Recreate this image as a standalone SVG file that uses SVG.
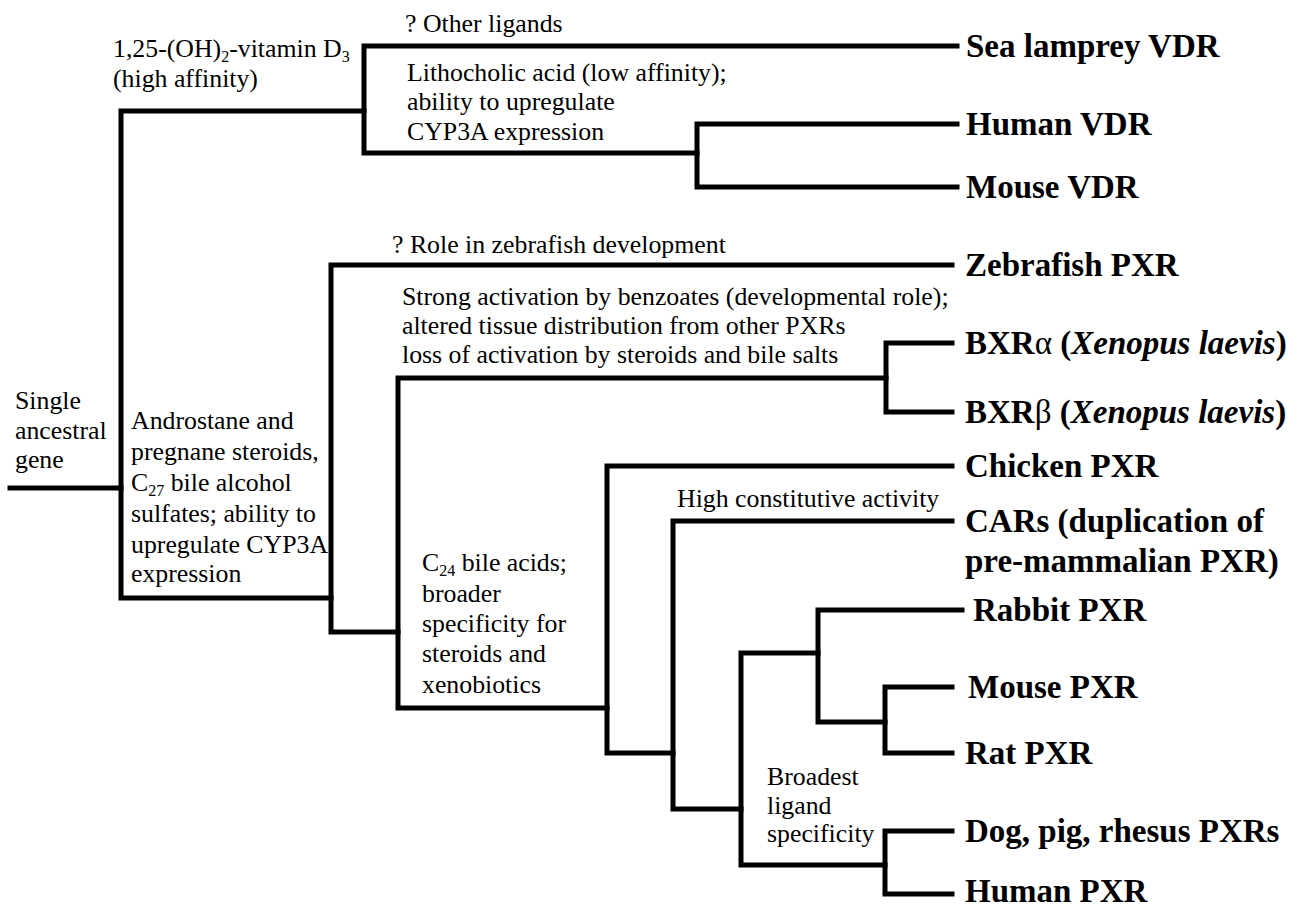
<svg xmlns="http://www.w3.org/2000/svg" width="1297" height="909" viewBox="0 0 1297 909">
<style>
.t{font-family:"Liberation Serif","Times New Roman",serif;font-size:25.8px;fill:#000}
.b{font-family:"Liberation Serif","Times New Roman",serif;font-size:33px;font-weight:bold;fill:#000}
.sub{font-size:16px}
.e{fill:none;stroke:#000;stroke-width:5;stroke-linecap:square;stroke-linejoin:miter}
</style>
<rect width="1297" height="909" fill="#fff"/>
<g id="connectors">
<path class="e" d="M10,488 H121"/>
<path class="e" d="M364,111 H121 V598 H331"/>
<path class="e" d="M957,46 H364 V153 H697"/>
<path class="e" d="M957,124 H697 V187 H957"/>
<path class="e" d="M952,265 H331 V632 H398"/>
<path class="e" d="M886,378 H398 V708 H607"/>
<path class="e" d="M952,343 H886 V412 H952"/>
<path class="e" d="M952,466 H607 V753 H673"/>
<path class="e" d="M952,521 H673 V809 H741"/>
<path class="e" d="M818,653 H741 V865 H885"/>
<path class="e" d="M962,610 H818 V722 H885"/>
<path class="e" d="M952,687 H885 V753 H952"/>
<path class="e" d="M952,831 H885 V894 H952"/>
</g>
<g id="branch-labels">
<text class="t" x="405" y="32">? Other ligands</text>
<text class="t" x="113" y="57">1,25-(OH)<tspan class="sub" dy="5">2</tspan><tspan dy="-5">-vitamin D</tspan><tspan class="sub" dy="5">3</tspan></text>
<text class="t" x="113" y="87">(high affinity)</text>
<text class="t" x="407" y="81">Lithocholic acid (low affinity);</text>
<text class="t" x="407" y="110">ability to upregulate</text>
<text class="t" x="407" y="140">CYP3A expression</text>
<text class="t" x="392" y="253">? Role in zebrafish development</text>
<text class="t" x="402" y="305">Strong activation by benzoates (developmental role);</text>
<text class="t" x="402" y="334">altered tissue distribution from other PXRs</text>
<text class="t" x="402" y="363">loss of activation by steroids and bile salts</text>
<text class="t" x="15" y="409">Single</text>
<text class="t" x="15" y="439">ancestral</text>
<text class="t" x="15" y="468">gene</text>
<text class="t" x="131" y="429">Androstane and</text>
<text class="t" x="131" y="460">pregnane steroids,</text>
<text class="t" x="131" y="491">C<tspan class="sub" dy="5">27</tspan><tspan dy="-5"> bile alcohol</tspan></text>
<text class="t" x="131" y="522">sulfates; ability to</text>
<text class="t" x="131" y="553">upregulate CYP3A</text>
<text class="t" x="131" y="582">expression</text>
<text class="t" x="422" y="571">C<tspan class="sub" dy="5">24</tspan><tspan dy="-5"> bile acids;</tspan></text>
<text class="t" x="422" y="602">broader</text>
<text class="t" x="422" y="632">specificity for</text>
<text class="t" x="422" y="662">steroids and</text>
<text class="t" x="422" y="693">xenobiotics</text>
<text class="t" x="677" y="507">High constitutive activity</text>
<text class="t" x="767" y="785">Broadest</text>
<text class="t" x="767" y="814">ligand</text>
<text class="t" x="767" y="842">specificity</text>
</g>
<g id="sea-lamprey-vdr"><text class="b" x="966" y="57">Sea lamprey VDR</text></g>
<g id="human-vdr"><text class="b" x="966" y="135">Human VDR</text></g>
<g id="mouse-vdr"><text class="b" x="966" y="198">Mouse VDR</text></g>
<g id="zebrafish-pxr"><text class="b" x="965" y="276">Zebrafish PXR</text></g>
<g id="bxr-alpha"><text class="b" x="965" y="354">BXR<tspan font-weight="normal">α</tspan> (<tspan font-style="italic">Xenopus laevis</tspan>)</text></g>
<g id="bxr-beta"><text class="b" x="965" y="423">BXR<tspan font-weight="normal">β</tspan> (<tspan font-style="italic">Xenopus laevis</tspan>)</text></g>
<g id="chicken-pxr"><text class="b" x="965" y="477">Chicken PXR</text></g>
<g id="cars"><text class="b" x="965" y="532">CARs (duplication of</text><text class="b" x="965" y="572">pre-mammalian PXR)</text></g>
<g id="rabbit-pxr"><text class="b" x="973" y="621">Rabbit PXR</text></g>
<g id="mouse-pxr"><text class="b" x="968" y="698">Mouse PXR</text></g>
<g id="rat-pxr"><text class="b" x="965" y="764">Rat PXR</text></g>
<g id="dog-pig-rhesus-pxr"><text class="b" x="965" y="842">Dog, pig, rhesus PXRs</text></g>
<g id="human-pxr"><text class="b" x="965" y="902">Human PXR</text></g>
</svg>
